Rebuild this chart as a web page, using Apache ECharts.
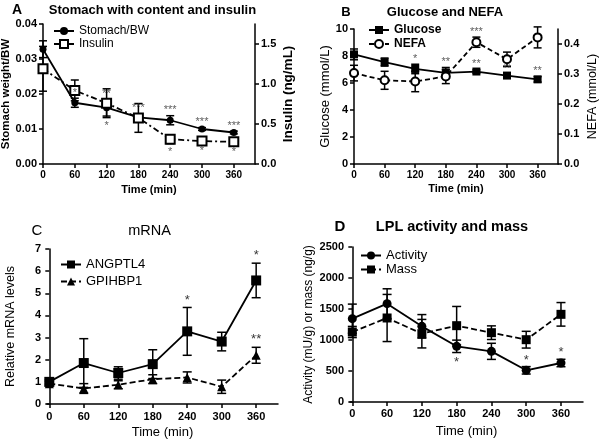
<!DOCTYPE html>
<html><head><meta charset="utf-8">
<script src="https://cdn.jsdelivr.net/npm/echarts@6/dist/echarts.min.js"></script>
<style>html,body{margin:0;padding:0;background:#fff}#c{width:600px;height:443px}</style>
</head><body><div id="c"></div>
<script>
// ---------- data ----------
const time = [0, 60, 120, 180, 240, 300, 360];
const xTicks = [0, 60, 120, 180, 240, 300, 360];

// Panel A
const stomachBW    = [0.0328, 0.0175, 0.0161, 0.0133, 0.0125, 0.0100, 0.0090];
const stomachBWErr = [0.0024, 0.0013, 0.0024, 0.0010, 0.0013, 0.0004, 0.0004];
const insulin      = [1.19, 0.92, 0.76, 0.576, 0.31, 0.286, 0.277];
const insulinErr   = [0.28, 0.13, 0.18, 0.18, 0.055, 0.02, 0.02];
const sigStomach   = ['', '*', '**', '***', '***', '***', '***'];
const sigInsulin   = ['', '', '*', '', '*', '*', '*'];
const aLeftTicks   = [0, 0.01, 0.02, 0.03, 0.04];
const aRightTicks  = [0, 0.5, 1.0, 1.5];

// Panel B
const glucose      = [8.12, 7.55, 7.04, 6.75, 6.85, 6.55, 6.27];
const glucoseErr   = [0.4, 0.3, 0.35, 0.4, 0.12, 0.1, 0.2];
const nefa         = [0.303, 0.279, 0.275, 0.292, 0.406, 0.349, 0.422];
const nefaErr      = [0.026, 0.03, 0.034, 0.024, 0.017, 0.024, 0.035];
const sigGlucose   = ['', '', '*', '**', '**', '**', '**'];
const sigNefa      = ['', '', '', '', '***', '', ''];
const bLeftTicks   = [0, 2, 4, 6, 8, 10];
const bRightTicks  = [0, 0.1, 0.2, 0.3, 0.4];

// Panel C
const angptl4      = [1.0, 1.85, 1.4, 1.8, 3.28, 2.82, 5.58];
const angptl4Err   = [0.1, 1.1, 0.28, 0.65, 1.08, 0.42, 0.78];
const gpihbp1      = [0.92, 0.7, 0.87, 1.12, 1.2, 0.78, 2.2];
const gpihbp1Err   = [0.1, 0.22, 0.18, 0.2, 0.25, 0.3, 0.36];
const sigAngptl4   = ['', '', '', '', '*', '', '*'];
const sigGpihbp1   = ['', '', '', '', '', '', '**'];
const cTicks       = [0, 1, 2, 3, 4, 5, 6, 7];

// Panel D
const activity     = [1344, 1586, 1220, 898, 817, 511, 629];
const activityErr  = [235, 240, 190, 100, 130, 60, 60];
const mass         = [1129, 1355, 1102, 1231, 1118, 1005, 1414];
const massErr      = [90, 380, 230, 310, 110, 135, 190];
const sigActBelow  = ['', '', '', '*', '', '', ''];
const sigActAbove  = ['', '', '', '', '', '*', '*'];
const dTicks       = [0, 500, 1000, 1500, 2000, 2500];

// ---------- fonts ----------
const SANS = "'Liberation Sans', Arial, sans-serif";
function rf(size, weight) { return {fontFamily: SANS, fontSize: size, fontWeight: weight}; }

// ---------- helpers ----------
const BLACK = '#000';
function xAxisFor(grid, min, max, labelFont, nameFont, nameGap, margin) {
  return {
    type: 'value', gridIndex: grid, min: min, max: max,
    axisLine: {show: true, lineStyle: {color: BLACK, width: 1.5}},
    axisTick: {show: true, length: 4, lineStyle: {color: BLACK, width: 1.5}, customValues: xTicks},
    axisLabel: Object.assign({color: BLACK, margin: margin, customValues: xTicks}, labelFont),
    splitLine: {show: false},
    name: 'Time (min)', nameLocation: 'middle', nameGap: nameGap,
    nameTextStyle: Object.assign({color: BLACK}, nameFont)
  };
}
function yAxisFor(grid, pos, min, max, ticks, fmt, labelFont, name, nameFont, nameGap) {
  return {
    type: 'value', gridIndex: grid, position: pos, min: min, max: max,
    axisLine: {show: true, lineStyle: {color: BLACK, width: 1.5}},
    axisTick: {show: true, length: 4, lineStyle: {color: BLACK, width: 1.5}, customValues: ticks},
    axisLabel: Object.assign({color: BLACK, margin: 6, customValues: ticks, formatter: fmt}, labelFont),
    splitLine: {show: false},
    name: name, nameLocation: 'middle', nameGap: nameGap,
    nameTextStyle: Object.assign({color: BLACK}, nameFont)
  };
}
function lineS(name, xi, yi, vals, symbol, size, fill, dash, bw) {
  return {
    type: 'line', name: name, xAxisIndex: xi, yAxisIndex: yi,
    data: time.map((t, i) => [t, vals[i]]),
    symbol: symbol, symbolSize: size, showAllSymbol: true,
    lineStyle: {color: BLACK, width: 1.8, type: dash},
    itemStyle: {color: fill, borderColor: BLACK, borderWidth: bw || 0},
    emphasis: {disabled: true}, z: 5, animation: false
  };
}
function errS(xi, yi, vals, errs, cap) {
  return {
    type: 'custom', xAxisIndex: xi, yAxisIndex: yi, silent: true, z: 3, animation: false, clip: false,
    data: time.map((t, i) => [t, vals[i] - errs[i], vals[i] + errs[i]]),
    encode: {x: 0, y: [1, 2]},
    renderItem: function (params, api) {
      const x = api.value(0);
      const lo = api.coord([x, api.value(1)]);
      const hi = api.coord([x, api.value(2)]);
      const h = cap / 2, st = {stroke: BLACK, lineWidth: 1.5};
      return {type: 'group', children: [
        {type: 'line', shape: {x1: lo[0], y1: lo[1], x2: hi[0], y2: hi[1]}, style: st},
        {type: 'line', shape: {x1: lo[0] - h, y1: lo[1], x2: lo[0] + h, y2: lo[1]}, style: st},
        {type: 'line', shape: {x1: hi[0] - h, y1: hi[1], x2: hi[0] + h, y2: hi[1]}, style: st}
      ]};
    }
  };
}
function sigS(xi, yi, vals, errs, marks, above, size, color, dist) {
  const data = [];
  time.forEach((t, i) => {
    if (marks[i]) data.push({value: [t, above ? vals[i] + errs[i] : vals[i] - errs[i]], label: {formatter: marks[i]}});
  });
  return {
    type: 'scatter', xAxisIndex: xi, yAxisIndex: yi, silent: true, z: 6, animation: false,
    symbolSize: 0, data: data,
    label: {show: true, position: above ? 'top' : 'bottom', distance: dist,
            color: color, fontSize: size, fontFamily: SANS}
  };
}
function legendFor(names, left, top, font, gap) {
  return {
    data: names, orient: 'vertical', left: left, top: top, padding: 0,
    itemWidth: 20, itemHeight: 10, itemGap: gap, selectedMode: false,
    textStyle: Object.assign({color: BLACK, padding: [0, 0, 0, 0]}, font)
  };
}

const f2 = v => v.toFixed(2), f1 = v => v.toFixed(1), f0 = v => String(v);

const option = {
  animation: false,
  backgroundColor: '#fff',
  grid: [
    {left: 43, top: 24, width: 212, height: 140, outerBoundsMode: 'none'},
    {left: 354, top: 29, width: 204, height: 135, outerBoundsMode: 'none'},
    {left: 47, top: 249, width: 231, height: 155, outerBoundsMode: 'none'},
    {left: 350, top: 247, width: 233, height: 155, outerBoundsMode: 'none'}
  ],
  xAxis: [
    xAxisFor(0, 0, 400, rf(10, 'bold'), rf(11, 'bold'), 20, 6),
    xAxisFor(1, 0, 400, rf(10, 'bold'), rf(11, 'bold'), 19, 6),
    xAxisFor(2, -4, 398, rf(11, 'bold'), rf(13, 'normal'), 22, 7),
    xAxisFor(3, -4, 398, rf(11, 'bold'), rf(13, 'normal'), 23, 6)
  ],
  yAxis: [
    yAxisFor(0, 'left', 0, 0.04, aLeftTicks, f2, rf(11, 'bold'), 'Stomach weight/BW', rf(11.5, 'bold'), 29),
    yAxisFor(0, 'right', 0, 1.75, aRightTicks, f1, rf(11, 'bold'), 'Insulin (ng/mL)', rf(13.5, 'bold'), 26),
    yAxisFor(1, 'left', 0, 10, bLeftTicks, f0, rf(11, 'bold'), 'Glucose (mmol/L)', rf(13, 'normal'), 17),
    yAxisFor(1, 'right', 0, 0.45, bRightTicks, f1, rf(11, 'bold'), 'NEFA (mmol/L)', rf(12.5, 'normal'), 28),
    yAxisFor(2, 'left', 0, 7, cTicks, f0, rf(11, 'bold'), 'Relative mRNA levels', rf(12.5, 'normal'), 30),
    yAxisFor(3, 'left', 0, 2500, dTicks, f0, rf(11, 'bold'), 'Activity (mU/g) or mass (ng/g)', rf(12, 'normal'), 35)
  ],
  legend: [
    legendFor(['Stomach/BW', 'Insulin'], 53, 25, rf(12, 'normal'), 1),
    legendFor(['Glucose', 'NEFA'], 368, 24, rf(12, 'bold'), 2),
    legendFor(['ANGPTL4', 'GPIHBP1'], 60, 258, rf(13, 'normal'), 4),
    legendFor(['Activity', 'Mass'], 360, 249, rf(13, 'normal'), 1)
  ],
  graphic: [
    {type: 'text', x: 17, y: 10, style: {text: 'A', fill: BLACK, align: 'center', verticalAlign: 'middle', font: 'bold 14px ' + SANS}},
    {type: 'text', x: 152.5, y: 10, style: {text: 'Stomach with content and insulin', fill: BLACK, align: 'center', verticalAlign: 'middle', font: 'bold 13px ' + SANS}},
    {type: 'text', x: 346, y: 12, style: {text: 'B', fill: BLACK, align: 'center', verticalAlign: 'middle', font: 'bold 13px ' + SANS}},
    {type: 'text', x: 445, y: 12, style: {text: 'Glucose and NEFA', fill: BLACK, align: 'center', verticalAlign: 'middle', font: 'bold 13px ' + SANS}},
    {type: 'text', x: 37, y: 231, style: {text: 'C', fill: BLACK, align: 'center', verticalAlign: 'middle', font: '15px ' + SANS}},
    {type: 'text', x: 149.5, y: 231, style: {text: 'mRNA', fill: BLACK, align: 'center', verticalAlign: 'middle', font: '14.5px ' + SANS}},
    {type: 'text', x: 340, y: 227, style: {text: 'D', fill: BLACK, align: 'center', verticalAlign: 'middle', font: 'bold 15px ' + SANS}},
    {type: 'text', x: 452, y: 227, style: {text: 'LPL activity and mass', fill: BLACK, align: 'center', verticalAlign: 'middle', font: 'bold 14.5px ' + SANS}}
  ],
  series: [
    // A
    errS(0, 0, stomachBW, stomachBWErr, 8),
    errS(0, 1, insulin, insulinErr, 8),
    lineS('Stomach/BW', 0, 0, stomachBW, 'circle', 7, BLACK, 'solid'),
    lineS('Insulin', 0, 1, insulin, 'rect', 9, '#fff', [6, 3, 2, 3], 2),
    sigS(0, 0, stomachBW, stomachBWErr, sigStomach, true, 11, '#333', 0),
    sigS(0, 1, insulin, insulinErr, sigInsulin, false, 11, '#333', 3),
    // B
    errS(1, 2, glucose, glucoseErr, 8),
    errS(1, 3, nefa, nefaErr, 8),
    lineS('Glucose', 1, 2, glucose, 'rect', 8, BLACK, 'solid'),
    lineS('NEFA', 1, 3, nefa, 'circle', 8, '#fff', [5, 3], 2),
    sigS(1, 2, glucose, glucoseErr, sigGlucose, true, 11, '#333', 0),
    sigS(1, 3, nefa, nefaErr, sigNefa, true, 11, '#333', 0),
    // C
    errS(2, 4, angptl4, angptl4Err, 9),
    errS(2, 4, gpihbp1, gpihbp1Err, 9),
    lineS('ANGPTL4', 2, 4, angptl4, 'rect', 10, BLACK, 'solid'),
    lineS('GPIHBP1', 2, 4, gpihbp1, 'triangle', 9, BLACK, [6, 3]),
    sigS(2, 4, angptl4, angptl4Err, sigAngptl4, true, 13, BLACK, 1),
    sigS(2, 4, gpihbp1, gpihbp1Err, sigGpihbp1, true, 13, BLACK, 1),
    // D
    errS(3, 5, activity, activityErr, 9),
    errS(3, 5, mass, massErr, 9),
    lineS('Activity', 3, 5, activity, 'circle', 9, BLACK, 'solid'),
    lineS('Mass', 3, 5, mass, 'rect', 9, BLACK, [6, 3]),
    sigS(3, 5, activity, activityErr, sigActBelow, false, 13, BLACK, 3),
    sigS(3, 5, activity, activityErr, sigActAbove, true, 13, BLACK, 0)
  ]
};
const chart = echarts.init(document.getElementById('c'), null, {renderer: 'canvas'});
chart.setOption(option);
</script>
</body></html>
